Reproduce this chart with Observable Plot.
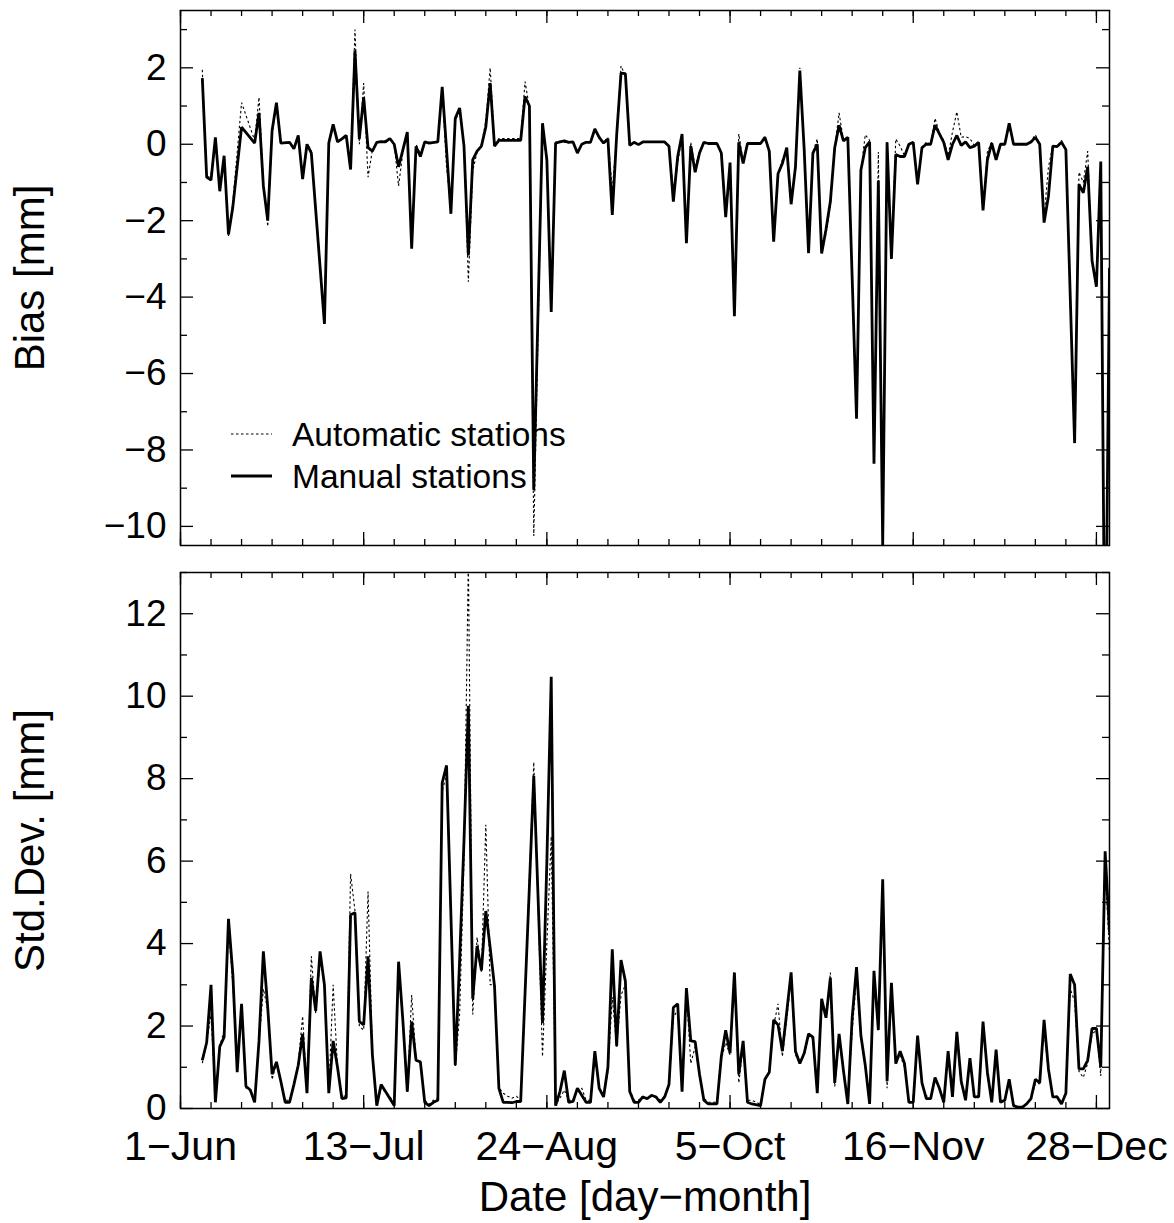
<!DOCTYPE html>
<html><head><meta charset="utf-8">
<script src="https://cdn.jsdelivr.net/npm/d3@7"></script>
<script src="https://cdn.jsdelivr.net/npm/@observablehq/plot@0.6"></script>
<style>
body{margin:0;background:#fff;}
#wrap{position:relative;width:1174px;height:1223px;font-family:"Liberation Sans",Arial,Helvetica,sans-serif;}
#wrap svg{display:block}
#legend{position:absolute;left:0;top:0;pointer-events:none}
</style></head><body><div id="wrap"></div>
<script>
// ---- data (day index: 0 = 1 June) ----
const biasDays = [5,6,7,8,9,10,11,12,14,17,
 18,19,20,21,22,23,25,26,27,28,
 29,30,33,34,35,36,37,38,39,40,
 41,42,43,44,45,46,47,48,49,50,
 51,52,53,54,55,56,57,59,60,61,
 62,63,64,65,66,67,68,69,70,71,
 72,73,78,79,80,81,83,84,85,86,
 87,88,89,90,91,92,93,94,95,96,
 97,98,99,100,101,102,103,104,105,106,
 111,112,113,114,115,116,117,118,119,120,
 121,123,124,125,126,127,128,129,130,133,
 134,135,136,137,138,139,140,141,142,143,
 144,145,146,147,148,149,150,151,152,153,
 155,156,157,158,159,160,161,162,163,164,
 165,166,167,168,169,170,171,172,173,174,
 175,176,177,178,179,180,181,182,183,184,
 185,186,187,188,189,190,191,194,195,196,
 197,198,199,200,201,202,203,205,206,207,
 208,209,210,211,212,213];
const biasManual = [1.73,-0.86,-0.94,0.18,-1.23,-0.3,-2.36,-1.64,0.45,0.03,
 0.82,-1.09,-2.0,0.36,1.09,0.03,0.05,-0.12,0.23,-0.91,
 0.0,-0.23,-4.7,0.03,0.52,0.06,0.14,0.23,-0.66,2.45,
 0.14,1.23,-0.09,-0.18,0.05,0.07,0.06,0.15,0.0,-0.59,
 -0.14,0.32,-2.73,-0.06,-0.32,0.06,0.03,0.06,1.5,-0.14,
 -1.82,0.68,0.95,-0.05,-2.91,-0.41,-0.18,-0.05,0.45,1.6,
 -0.05,0.1,0.1,1.25,1.0,-9.05,0.55,-0.41,-4.39,0.03,
 0.06,0.09,0.05,0.06,-0.23,0.0,0.05,0.05,0.4,0.18,
 0.03,0.14,-1.85,0.23,1.86,1.85,-0.03,0.05,-0.01,0.06,
 0.06,-0.05,-1.5,-0.32,0.27,-2.59,-0.05,-0.73,-0.23,0.05,
 0.02,0.02,-0.23,-1.91,-0.48,-4.5,0.05,-0.5,0.02,0.02,
 0.18,-0.18,-2.55,-0.77,-0.5,-0.09,-1.57,-0.59,1.93,-0.14,
 -2.85,-0.23,0.0,-2.86,-2.23,-1.5,-0.09,0.5,0.09,0.18,
 -7.18,-0.68,-0.09,0.06,-8.36,-0.95,-10.5,0.05,-3.0,-0.27,
 -0.32,-0.32,0.0,0.05,-1.05,-0.09,0.0,0.0,0.5,0.27,
 0.05,-0.41,0.0,0.23,-0.03,0.06,-0.09,-0.05,0.05,-1.73,
 -0.41,0.03,-0.41,0.0,0.0,0.55,0.0,0.0,0.06,0.18,
 0.0,-2.05,-1.36,-0.05,-0.06,0.05,-0.14,-7.82,-1.05,-1.27,
 -0.59,-3.05,-3.73,-0.45,-15,-3.23];
const biasAuto = [1.95,-0.9,-0.8,0.15,-1.1,-0.35,-2.4,-1.5,1.09,0.1,
 1.23,-1.0,-2.15,0.3,1.0,0.05,0.05,-0.1,0.2,-0.85,
 0.0,-0.15,-4.6,0.05,0.5,0.08,0.12,0.2,-0.6,3.0,
 0.0,1.6,-0.86,-0.15,0.05,0.07,0.1,0.15,0.0,-1.09,
 -0.2,0.3,-2.6,0.0,-0.25,0.05,0.05,0.06,1.45,-0.6,
 -1.7,0.6,0.9,0.0,-3.6,-0.7,-0.2,0.0,0.6,2.0,
 0.0,0.15,0.15,1.64,0.95,-10.25,0.5,-0.5,-4.3,0.05,
 0.08,0.05,0.05,0.06,-0.2,0.0,0.05,0.05,0.4,0.15,
 0.05,0.18,-1.2,0.2,2.05,1.8,-0.05,0.05,0.0,0.05,
 0.05,-0.05,-1.2,-0.5,0.25,-2.5,0.05,-0.6,-0.2,0.05,
 0.02,0.02,-0.2,-1.8,-0.5,-4.4,0.27,-0.45,0.02,0.02,
 0.2,-0.3,-2.4,-0.8,-0.4,-0.15,-1.4,-0.7,2.0,-0.1,
 -2.8,-0.2,0.14,-2.8,-2.35,-1.6,-0.1,0.82,0.1,0.2,
 -7.1,-0.7,0.25,0.1,-8.3,-0.2,-10.5,0.07,-2.9,0.14,
 -0.05,-0.3,0.0,0.05,-1.0,-0.1,0.06,0.0,0.68,0.3,
 0.1,-0.3,0.32,0.85,0.18,0.2,0.15,-0.03,0.05,-1.7,
 -0.2,0.05,-0.4,0.0,0.0,0.55,0.0,0.0,0.08,0.25,
 0.0,-1.9,-0.6,-0.05,-0.05,0.1,-0.15,-7.8,-0.73,-1.0,
 -0.18,-3.0,-3.7,-0.5,-15,-3.5];

const sdDays = [5,6,7,8,9,10,11,12,13,14,
 15,16,17,18,19,20,21,22,23,24,
 25,26,27,28,29,30,31,32,33,34,
 35,36,37,38,39,40,41,42,43,44,
 45,46,47,48,49,50,51,52,53,54,
 55,56,57,58,59,60,61,63,64,65,
 66,67,68,69,70,71,72,73,74,75,
 76,77,78,79,80,81,83,84,85,86,
 87,88,89,90,91,92,93,94,95,96,
 97,98,99,100,101,102,103,104,105,106,
 107,108,109,110,111,112,113,114,115,116,
 117,118,119,120,121,123,124,125,126,127,
 128,129,130,131,133,134,135,136,137,138,
 140,141,142,143,144,145,146,147,148,149,
 150,151,152,153,154,155,156,157,158,159,
 160,161,162,163,164,165,166,167,168,169,
 170,171,172,173,174,175,176,177,178,179,
 180,181,182,183,184,185,186,187,188,189,
 190,191,192,193,194,195,196,197,198,199,
 200,201,202,203,204,205,206,207,208,209,
 210,211,212,213];
const sdManual = [1.17,1.6,3.0,0.15,1.5,1.73,4.6,3.26,0.88,2.54,
 0.54,0.45,0.15,1.64,3.81,2.45,0.83,1.13,0.66,0.15,
 0.15,0.58,1.05,1.81,0.37,3.17,2.37,3.81,3.0,0.37,
 1.64,1.0,0.24,0.26,4.7,4.75,2.11,2.03,3.69,1.3,
 0.07,0.58,0.41,0.24,0.07,3.56,2.11,0.41,2.11,1.17,
 1.13,0.15,0.07,0.15,0.2,7.9,8.32,1.05,3.6,6.5,
 9.77,2.66,3.94,3.35,4.79,3.9,2.96,0.49,0.15,0.15,
 0.14,0.17,0.17,2.8,5.4,8.07,2.07,6.0,10.47,0.07,
 0.41,0.92,0.15,0.17,0.49,0.32,0.15,0.15,1.39,0.49,
 0.28,1.0,3.86,1.51,3.6,3.09,0.41,0.15,0.15,0.28,
 0.24,0.32,0.28,0.15,0.28,0.58,2.45,2.54,0.41,2.92,
 1.64,1.62,0.83,0.2,0.11,0.11,1.26,1.9,1.34,3.3,
 0.83,1.64,0.15,0.11,0.07,0.71,0.88,2.15,2.03,1.39,
 3.3,1.39,1.09,1.34,1.81,1.73,0.37,2.66,2.2,3.17,
 0.62,1.81,0.92,0.11,2.2,3.43,1.77,1.05,0.11,3.34,
 1.9,5.56,0.66,3.05,1.09,1.39,1.09,0.15,0.15,1.77,
 0.62,0.24,0.24,0.75,0.49,0.15,1.39,0.28,1.86,0.66,
 0.2,1.22,0.28,0.28,2.11,0.88,0.15,1.43,0.15,0.2,
 0.71,0.07,0.03,0.03,0.11,0.24,0.71,0.62,2.15,0.96,
 0.28,0.28,0.11,0.37,3.26,3.0,0.96,0.96,1.17,1.94,
 1.94,1.0,6.24,4.28];
const sdAuto = [1.1,1.6,2.3,0.2,1.5,1.9,4.4,3.0,0.9,2.4,
 0.5,0.45,0.15,1.6,2.9,2.4,0.7,1.1,0.6,0.2,
 0.2,0.55,1.1,2.24,0.4,3.69,2.3,3.6,3.0,0.4,
 3.0,1.0,0.3,0.3,5.69,4.8,2.0,1.9,5.26,1.3,
 0.1,0.5,0.4,0.3,0.1,3.3,2.2,0.4,2.75,1.2,
 1.1,0.2,0.1,0.2,0.25,7.7,8.1,1.0,2.3,6.0,
 13.3,2.28,4.15,3.3,6.88,3.0,3.0,0.5,0.37,0.3,
 0.25,0.3,0.2,2.8,5.6,8.4,1.26,4.0,6.6,0.1,
 0.25,0.45,0.2,0.2,0.45,0.49,0.2,0.2,1.2,0.5,
 0.3,0.9,2.7,1.5,2.75,3.0,0.45,0.2,0.2,0.3,
 0.25,0.3,0.3,0.2,0.3,0.55,2.2,2.4,0.45,2.8,
 1.09,1.5,0.8,0.25,0.15,0.15,1.2,1.6,1.3,3.1,
 0.62,1.5,0.2,0.2,0.1,0.7,0.9,2.0,2.54,1.26,
 3.1,1.3,1.1,1.3,1.73,1.7,0.4,2.5,2.2,3.3,
 0.53,1.7,0.9,0.15,1.86,3.2,1.7,1.0,0.15,3.2,
 1.9,5.4,0.49,2.9,1.1,1.3,1.0,0.2,0.2,1.7,
 0.6,0.3,0.3,0.7,0.5,0.2,1.3,0.3,1.7,0.6,
 0.25,1.2,0.3,0.3,2.0,0.8,0.2,1.3,0.2,0.2,
 0.6,0.1,0.05,0.05,0.1,0.25,0.6,0.6,1.9,0.9,
 0.3,0.3,0.15,0.4,2.9,2.6,0.9,0.75,1.1,1.8,
 1.9,0.79,5.86,3.77];

const dateTicks = [0,42,84,126,168,210];
const dateLabels = ["1\u2212Jun","13\u2212Jul","24\u2212Aug","5\u2212Oct","16\u2212Nov","28\u2212Dec"];
const dateMinor = [0,7,14,21,28,35,42,49,56,63,70,77,84,91,98,105,112,119,126,133,140,147,154,161,168,175,182,189,196,203,210];
const biasTicks = [-10,-8,-6,-4,-2,0,2];
const biasMinor = [-9,-7,-5,-3,-1,1,3];
const sdTicks = [0,2,4,6,8,10,12];
const sdMinor = [1,3,5,7,9,11,13];
const seriesNames = ["Automatic stations","Manual stations"];
const yTitles = ["Bias [mm]","Std.Dev. [mm]"];
const xTitle = "Date [day\u2212month]";

// ---- layout ----
const W = 1174, ML = 180, MR = 65, PW = W - ML - MR;
const FONT = '"Liberation Sans", Arial, Helvetica, sans-serif';
const fmt = d => d < 0 ? "\u2212" + Math.abs(d) : String(d);

function tickMarks(ph, yMajor, yMinor) {
  const o = {stroke: "black", strokeWidth: 1.3};
  return [
    Plot.ruleX(dateTicks, {x: d => d, insetTop: ph - 13, ...o}),
    Plot.ruleX(dateMinor, {x: d => d, insetTop: ph - 6, ...o}),
    Plot.ruleX(dateTicks, {x: d => d, insetBottom: ph - 13, ...o}),
    Plot.ruleX(dateMinor, {x: d => d, insetBottom: ph - 6, ...o}),
    Plot.ruleY(yMajor, {y: d => d, insetRight: PW - 13, ...o}),
    Plot.ruleY(yMinor, {y: d => d, insetRight: PW - 7, ...o}),
    Plot.ruleY(yMajor, {y: d => d, insetLeft: PW - 13, ...o}),
    Plot.ruleY(yMinor, {y: d => d, insetLeft: PW - 7, ...o})
  ];
}

function panel({days, manual, auto, domain, yMajor, yMinor, title, height, mt, mb, bottom}) {
  const ph = height - mt - mb;
  const man = days.map((d, i) => ({d, v: manual[i]}));
  const aut = days.map((d, i) => ({d, v: auto[i]}));
  const marks = [
    Plot.line(aut, {x: "d", y: "v", stroke: "black", strokeWidth: 1.1, strokeDasharray: "2.5,2.5", clip: true, strokeLinejoin: "miter", strokeLinecap: "butt"}),
    Plot.line(man, {x: "d", y: "v", stroke: "black", strokeWidth: 2.8, clip: true, strokeLinejoin: "miter", strokeLinecap: "butt"}),
    ...tickMarks(ph, yMajor, yMinor),
    Plot.frame({stroke: "black", strokeWidth: 1.5}),
    Plot.axisY(yMajor, {tickSize: 0, tickPadding: 14, fontSize: 37, tickFormat: fmt, label: null}),
    Plot.text([title], {frameAnchor: "left", dx: -150, rotate: -90, textAnchor: "middle", fontSize: 42, fill: "black"})
  ];
  if (bottom) {
    marks.push(Plot.axisX(dateTicks, {tickSize: 0, tickPadding: 22, fontSize: 41, tickFormat: d => dateLabels[dateTicks.indexOf(d)], label: null}));
    marks.push(Plot.text([xTitle], {frameAnchor: "bottom", dy: 102, textAnchor: "middle", fontSize: 42, fill: "black"}));
  }
  return Plot.plot({
    width: W, height, marginLeft: ML, marginRight: MR, marginTop: mt, marginBottom: mb,
    x: {domain: [0, 213], axis: bottom ? undefined : null},
    y: {domain},
    style: {fontFamily: FONT, fontSize: "36px", color: "black", background: "white", overflow: "visible"},
    marks
  });
}

const wrap = document.getElementById("wrap");
wrap.appendChild(panel({days: biasDays, manual: biasManual, auto: biasAuto, domain: [-10.5, 3.5],
  yMajor: biasTicks, yMinor: biasMinor, title: yTitles[0], height: 558, mt: 10, mb: 13, bottom: false}));
wrap.appendChild(panel({days: sdDays, manual: sdManual, auto: sdAuto, domain: [0, 13],
  yMajor: sdTicks, yMinor: sdMinor, title: yTitles[1], height: 665, mt: 14, mb: 115, bottom: true}));

// legend (inside the upper panel)
const ns = "http://www.w3.org/2000/svg";
const lg = document.createElementNS(ns, "svg");
lg.setAttribute("id", "legend");
lg.setAttribute("width", 600); lg.setAttribute("height", 520);
const rows = [{name: seriesNames[0], y: 434, w: 1.1, dash: "2.5,2.5"}, {name: seriesNames[1], y: 476, w: 2.8, dash: null}];
rows.forEach(r => {
  const l = document.createElementNS(ns, "line");
  l.setAttribute("x1", 231); l.setAttribute("x2", 272);
  l.setAttribute("y1", r.y); l.setAttribute("y2", r.y);
  l.setAttribute("stroke", "black"); l.setAttribute("stroke-width", r.w);
  if (r.dash) l.setAttribute("stroke-dasharray", r.dash);
  lg.appendChild(l);
  const t = document.createElementNS(ns, "text");
  t.setAttribute("x", 292); t.setAttribute("y", r.y); t.setAttribute("dy", "0.35em");
  t.setAttribute("font-size", 33.5); t.setAttribute("font-family", FONT);
  t.textContent = r.name;
  lg.appendChild(t);
});
wrap.appendChild(lg);
</script></body></html>
